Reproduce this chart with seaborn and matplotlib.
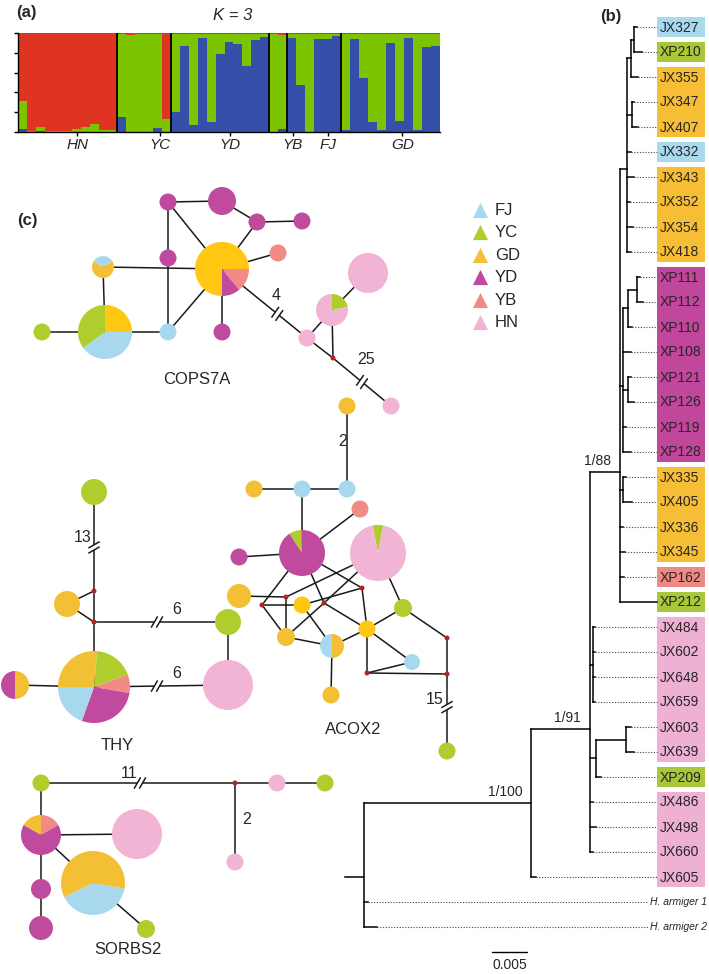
import matplotlib
matplotlib.use("Agg")
import numpy as np
import pandas as pd
import matplotlib.pyplot as plt
from matplotlib.patches import Wedge, Circle, Rectangle
import seaborn as sns

sns.set_theme(style="white")
plt.rcParams['font.family'] = ['Liberation Sans', 'DejaVu Sans']

W, H, DPI = 709, 974, 100

# ---------------- Panel (a): STRUCTURE K = 3 ----------------
struct_groups = ["HN", "YC", "YD", "YB", "FJ", "GD"]
struct_sizes = [11, 6, 11, 2, 6, 11]
struct_label_pos = [6.6, 15.8, 23.6, 30.6, 34.5, 42.8]
q_blue = [0.03, 0.00, 0.01, 0.00, 0.00, 0.00, 0.00, 0.00, 0.00, 0.00, 0.00,   # HN
          0.15, 0.00, 0.00, 0.00, 0.04, 0.00,                                  # YC
          0.20, 0.87, 0.07, 0.95, 0.10, 0.79, 0.91, 0.89, 0.67, 0.93, 0.96,   # YD
          0.00, 0.03,                                                          # YB
          0.95, 0.47, 0.00, 0.94, 0.94, 0.97,                                  # FJ
          0.02, 0.94, 0.55, 0.10, 0.02, 0.90, 0.11, 0.95, 0.02, 0.86, 0.87]   # GD
q_green = [0.28, 0.01, 0.04, 0.01, 0.01, 0.01, 0.03, 0.05, 0.08, 0.02, 0.02,
           0.84, 0.98, 0.99, 0.99, 0.95, 0.13,
           0.79, 0.12, 0.92, 0.04, 0.89, 0.20, 0.08, 0.10, 0.32, 0.06, 0.03,
           0.99, 0.95,
           0.04, 0.52, 0.99, 0.05, 0.05, 0.02,
           0.97, 0.05, 0.44, 0.89, 0.97, 0.09, 0.88, 0.04, 0.97, 0.13, 0.12]
q_red = [0.69, 0.99, 0.95, 0.99, 0.99, 0.99, 0.97, 0.95, 0.92, 0.98, 0.98,
         0.01, 0.02, 0.01, 0.01, 0.01, 0.87,
         0.01, 0.01, 0.01, 0.01, 0.01, 0.01, 0.01, 0.01, 0.01, 0.01, 0.01,
         0.01, 0.02,
         0.01, 0.01, 0.01, 0.01, 0.01, 0.01,
         0.01, 0.01, 0.01, 0.01, 0.01, 0.01, 0.01, 0.01, 0.01, 0.01, 0.01]
STRUCT_COLORS = {"blue": "#3550A8", "green": "#7CC300", "red": "#DF3422"}

# ---------------- Panel (b): tree ----------------
# internal node = ([children], branch_length, support) ; leaf = (name, branch_length)
clade_A = ([
    ([([("JX327", 0.0004), ("XP210", 0.0011)], 0.0004, ""), ("JX355", 0.0009)], 0.0006, ""),
    ([("JX347", 0.0003), ("JX407", 0.0009)], 0.0007, ""),
    ("JX332", 0.0006), ("JX343", 0.0010), ("JX352", 0.0004), ("JX354", 0.0009), ("JX418", 0.0006),
], 0.0010, "")
clade_YD = ([
    ([([("XP111", 0.0004), ("XP112", 0.0009)], 0.0013, ""), ("XP110", 0.0006)], 0.0007, ""),
    ("XP108", 0.0011),
    ([("XP121", 0.0004), ("XP126", 0.0009)], 0.0007, ""),
    ("XP119", 0.0004), ("XP128", 0.0011),
], 0.0004, "")
clade_88 = ([
    clade_A, clade_YD,
    ([("JX335", 0.0004), ("JX405", 0.0013)], 0.0004, ""),
    ("JX336", 0.0004), ("JX345", 0.0007), ("XP162", 0.0006), ("XP212", 0.0053),
], 0.0043, "1/88")
clade_91 = ([
    clade_88,
    ([("JX484", 0.0003), ("JX602", 0.0003), ("JX648", 0.0003), ("JX659", 0.0003)], 0.0004, ""),
    ([([("JX603", 0.0006), ("JX639", 0.0011)], 0.0043, ""), ("XP209", 0.0007)], 0.0009, ""),
    ("JX486", 0.0004), ("JX498", 0.0009), ("JX660", 0.0004),
], 0.0084, "1/91")
clade_100 = ([clade_91, ("JX605", 0.0007)], 0.0239, "1/100")
tree = ([clade_100, ("H. armiger 1", 0.0006), ("H. armiger 2", 0.0019)], 0.0027, "")

leaf_pop = {"JX327": "FJ", "XP210": "YC", "JX355": "GD", "JX347": "GD", "JX407": "GD",
            "JX332": "FJ", "JX343": "GD", "JX352": "GD", "JX354": "GD", "JX418": "GD",
            "XP111": "YD", "XP112": "YD", "XP110": "YD", "XP108": "YD", "XP121": "YD",
            "XP126": "YD", "XP119": "YD", "XP128": "YD", "JX335": "GD", "JX405": "GD",
            "JX336": "GD", "JX345": "GD", "XP162": "YB", "XP212": "YC", "JX484": "HN",
            "JX602": "HN", "JX648": "HN", "JX659": "HN", "JX603": "HN", "JX639": "HN",
            "XP209": "YC", "JX486": "HN", "JX498": "HN", "JX660": "HN", "JX605": "HN"}
scale_bar_value = 0.005

TREE_COLORS = {"FJ": "#A9D9EF", "YC": "#A8C73A", "GD": "#F5BE35", "YD": "#C0479B",
               "YB": "#EF8985", "HN": "#EFB1D3"}

# ---------------- Panel (c): haplotype networks ----------------
POP_COLORS = {"FJ": "#A8D8EE", "YC": "#B0CD2E", "GD": "#F3BF34", "GDb": "#FFC712",
              "YD": "#C04A9E", "YB": "#F08B86", "HN": "#F1B4D5"}
legend_pops = ["FJ", "YC", "GD", "YD", "YB", "HN"]

# (id, x, y, radius, composition, start angle clockwise from 12 o'clock)
cops_nodes = [
    ("N1", 42, 332, 8.5, "YC", 0),
    ("N2", 105, 332, 27, [("GDb", 0.25), ("FJ", 0.40), ("YC", 0.35)], 0),
    ("N3", 103, 267, 11, [("FJ", 0.33), ("GD", 0.67)], -60),
    ("N4", 168, 332, 8.5, "FJ", 0),
    ("N5", 168, 258, 8.5, "YD", 0),
    ("N6", 168, 202, 8.5, "YD", 0),
    ("N7", 222, 201, 14, "YD", 0),
    ("N8", 257, 222, 8.5, "YD", 0),
    ("N9", 302, 221, 8.5, "YD", 0),
    ("N10", 278, 253, 8.5, "YB", 0),
    ("N11", 222, 269, 27, [("YB", 0.14), ("YD", 0.11), ("GDb", 0.75)], 90),
    ("N12", 222, 332, 8.5, "YD", 0),
    ("N13", 307, 338, 8.5, "HN", 0),
    ("N14", 332, 310, 16, [("YC", 0.22), ("HN", 0.78)], 0),
    ("N15", 368, 273, 20, "HN", 0),
    ("N16", 333, 358, 2.5, None, 0),
    ("N17", 391, 406, 8.5, "HN", 0),
]
cops_edges = [("N1", "N2"), ("N2", "N3"), ("N2", "N4"), ("N3", "N11"), ("N6", "N5"), ("N5", "N4"),
              ("N4", "N11"), ("N6", "N7"), ("N6", "N11"), ("N7", "N8"), ("N8", "N9"), ("N8", "N11"),
              ("N10", "N11"), ("N11", "N12"), ("N13", "N14"), ("N14", "N15"), ("N13", "N16"),
              ("N14", "N16")]
cops_breaks = [("N11", "N13", 0.65, 55), ("N16", "N17", 0.5, 55)]
cops_labels = [("4", 276, 295), ("25", 366, 360)]

acox_nodes = [
    ("A1", 347, 406, 8.5, "GD", 0),
    ("A3", 347, 489, 8.5, "FJ", 0),
    ("A4", 302, 489, 8.5, "FJ", 0),
    ("A5", 254, 489, 8.5, "GD", 0),
    ("A6", 360, 509, 8.5, "YB", 0),
    ("A7", 302, 553, 23, [("YC", 0.09), ("YD", 0.91)], -33),
    ("A8", 239, 557, 8.5, "YD", 0),
    ("A9", 378, 553, 28, [("YC", 0.06), ("HN", 0.94)], -11),
    ("A10", 239, 596, 12, "GD", 0),
    ("A11", 262, 605, 2.5, None, 0),
    ("A12", 286, 597, 2.5, None, 0),
    ("A13", 302, 605, 8.5, "GDb", 0),
    ("A14", 324, 603, 2.5, None, 0),
    ("A15", 362, 588, 2.5, None, 0),
    ("A16", 403, 608, 9, "YC", 0),
    ("A17", 286, 637, 9, "GD", 0),
    ("A18", 332, 646, 12, [("GD", 0.5), ("FJ", 0.5)], 0),
    ("A19", 367, 629, 8.5, "GDb", 0),
    ("A20", 412, 662, 8, "FJ", 0),
    ("A21", 447, 638, 2.5, None, 0),
    ("A22", 367, 673, 2.5, None, 0),
    ("A23", 447, 674, 2.5, None, 0),
    ("A24", 331, 695, 8.5, "GD", 0),
    ("A25", 447, 751, 8.5, "YC", 0),
]
acox_edges = [("A1", "A3"), ("A5", "A4"), ("A4", "A3"), ("A4", "A7"), ("A7", "A6"), ("A8", "A7"),
              ("A7", "A11"), ("A7", "A14"), ("A7", "A15"), ("A14", "A19"), ("A15", "A19"),
              ("A19", "A22"), ("A9", "A12"), ("A9", "A14"), ("A9", "A16"), ("A10", "A12"),
              ("A12", "A17"), ("A11", "A13"), ("A11", "A17"), ("A13", "A15"), ("A13", "A18"),
              ("A17", "A14"), ("A17", "A18"), ("A18", "A19"), ("A19", "A16"), ("A19", "A20"),
              ("A16", "A21"), ("A21", "A23"), ("A22", "A23"), ("A22", "A20"), ("A18", "A24")]
acox_breaks = [("A23", "A25", 0.43, 30)]
acox_labels = [("2", 343, 442), ("15", 435, 700)]

thy_nodes = [
    ("T1", 94, 492, 13, "YC", 0),
    ("T2", 94, 591, 2.5, None, 0),
    ("T3", 67, 604, 13, "GD", 0),
    ("T4", 94, 622, 2.5, None, 0),
    ("T5", 228, 622, 13, "YC", 0),
    ("T6", 94, 687, 36, [("GD", 0.264), ("YC", 0.18), ("YB", 0.083), ("YD", 0.278), ("FJ", 0.195)], 270),
    ("T7", 15, 685, 14, [("GD", 0.5), ("YD", 0.5)], 0),
    ("T8", 228, 685, 25, "HN", 0),
]
thy_edges = [("T2", "T3"), ("T2", "T4"), ("T3", "T4"), ("T4", "T6"), ("T5", "T8"), ("T7", "T6")]
thy_breaks = [("T1", "T2", 0.56, 30), ("T4", "T5", 0.47, 60), ("T6", "T8", 0.47, 60)]
thy_labels = [("13", 83, 538), ("6", 177, 610), ("6", 177, 673)]

sorbs_nodes = [
    ("S1", 41, 783, 8.5, "YC", 0),
    ("S2", 235, 783, 2.5, None, 0),
    ("S3", 277, 783, 8.5, "HN", 0),
    ("S4", 325, 783, 8.5, "YC", 0),
    ("S5", 235, 862, 8.5, "HN", 0),
    ("S6", 41, 835, 20, [("GD", 1 / 6), ("YB", 1 / 6), ("YD", 2 / 3)], -60),
    ("S7", 137, 834, 25, "HN", 0),
    ("S8", 93, 883, 32, [("FJ", 0.40), ("GD", 0.60)], 100),
    ("S9", 41, 889, 10, "YD", 0),
    ("S10", 41, 928, 12, "YD", 0),
    ("S11", 146, 929, 9, "YC", 0),
]
sorbs_edges = [("S2", "S3"), ("S3", "S4"), ("S2", "S5"), ("S1", "S6"), ("S6", "S7"), ("S6", "S8"),
               ("S6", "S9"), ("S9", "S10"), ("S8", "S11")]
sorbs_breaks = [("S1", "S2", 0.51, 60)]
sorbs_labels = [("11", 129, 774), ("2", 247, 819)]

gene_labels = [("COPS7A", 197, 380), ("ACOX2", 353, 730), ("THY", 117, 745), ("SORBS2", 128, 950)]

# ============================ drawing ============================
fig = plt.figure(figsize=(W / DPI, H / DPI), dpi=DPI)
axn = fig.add_axes([0, 0, 1, 1])
axn.set_xlim(0, W)
axn.set_ylim(H, 0)
axn.axis("off")

# ---- (a) structure ----
axs = fig.add_axes([18 / W, 1 - 132 / H, 422 / W, 99 / H])
n_ind = len(q_blue)
xs = np.arange(n_ind) + 0.5
b = np.array(q_blue); g = np.array(q_green); r = np.array(q_red)
axs.bar(xs, b, width=1.0, color=STRUCT_COLORS["blue"], linewidth=0)
axs.bar(xs, g, width=1.0, bottom=b, color=STRUCT_COLORS["green"], linewidth=0)
axs.bar(xs, r, width=1.0, bottom=b + g, color=STRUCT_COLORS["red"], linewidth=0)
for bnd in np.cumsum(struct_sizes)[:-1]:
    axs.axvline(bnd, color="black", lw=1.3)
axs.set_xlim(0, n_ind)
axs.set_ylim(0, 1.0)
axs.set_yticks(np.arange(0, 1.01, 0.2))
axs.set_yticklabels([])
axs.set_xticks(struct_label_pos)
axs.set_xticklabels(struct_groups, fontstyle="italic", fontsize=11)
axs.tick_params(left=True, bottom=True, length=3, width=1, color="black", pad=1.5, direction="out")
for s in ["top", "right"]:
    axs.spines[s].set_visible(False)
for s in ["left", "bottom"]:
    axs.spines[s].set_color("black")
    axs.spines[s].set_linewidth(1.0)
axs.grid(False)
axn.text(233, 15, "K = 3", fontsize=12, fontstyle="italic", ha="center", va="center")

# panel letters
axn.text(16, 13, "(a)", fontsize=12, fontweight="bold", ha="left", va="center")
axn.text(600, 17, "(b)", fontsize=12, fontweight="bold", ha="left", va="center")
axn.text(17, 220, "(c)", fontsize=12, fontweight="bold", ha="left", va="center")

# ---- (b) tree ----
XS = 35 / scale_bar_value          # pixels per substitution/site
ROOT_X = 345
LEAF_Y0, LEAF_DY = 27, 25
BOX_X, BOX_W = 657, 48
out = {"leaves": [], "h": [], "v": [], "sup": []}
counter = [0]


def layout(node, x0):
    if isinstance(node[0], str):
        name, L = node
        x = x0 + L * XS
        y = LEAF_Y0 + counter[0] * LEAF_DY
        counter[0] += 1
        out["leaves"].append((name, x, y))
        return x, y
    children, L, sup = node
    x = x0 + L * XS
    ys = []
    for c in children:
        cx, cy = layout(c, x)
        out["h"].append((x, cx, cy))
        ys.append(cy)
    y = float(np.mean(ys))
    out["v"].append((x, min(ys), max(ys)))
    if sup:
        out["sup"].append((x, y, sup))
    return x, y


rx, ry = layout(tree, ROOT_X)
tl = dict(color="black", lw=1.1, solid_capstyle="projecting")
axn.plot([ROOT_X, rx], [ry, ry], **tl)
for x0, x1, y in out["h"]:
    axn.plot([x0, x1], [y, y], **tl)
for x, y0, y1 in out["v"]:
    axn.plot([x, x], [y0, y1], **tl)
for x, y, sup in out["sup"]:
    axn.text(x - 9, y - 4, sup, fontsize=10, ha="right", va="bottom")

leaves = out["leaves"]
# coloured boxes: one rectangle per run of consecutive leaves from the same population
runs = []
for name, x, y in leaves:
    pop = leaf_pop.get(name)
    if pop is None:
        continue
    if runs and runs[-1][0] == pop and abs(runs[-1][2] - (y - LEAF_DY)) < 1e-6:
        runs[-1][2] = y
    else:
        runs.append([pop, y, y])
for pop, y0, y1 in runs:
    top = y0 - LEAF_DY / 2 + 2.3
    bot = y1 + LEAF_DY / 2 - 2.3
    axn.add_patch(Rectangle((BOX_X, top), BOX_W, bot - top, color=TREE_COLORS[pop], lw=0, zorder=1))

for name, x, y in leaves:
    if name in leaf_pop:
        if x < BOX_X - 1:
            axn.plot([x, BOX_X], [y, y], color="#444444", lw=0.8, ls=(0, (1, 1.5)))
        axn.text(BOX_X + 3, y + 0.5, name, fontsize=10, ha="left", va="center", zorder=3)
    else:
        axn.plot([x, 648], [y, y], color="#444444", lw=0.8, ls=(0, (1, 1.5)))
        axn.text(707, y, name, fontsize=7.5, fontstyle="italic", ha="right", va="center")

# scale bar
SB_X, SB_Y = 492, 952
axn.plot([SB_X, SB_X + scale_bar_value * XS], [SB_Y, SB_Y], color="black", lw=1.0)
axn.text(SB_X + scale_bar_value * XS / 2, 965, f"{scale_bar_value:g}", fontsize=10, ha="center", va="center")

# ---- (c) networks ----
LINE = dict(color="#1a1a1a", lw=1.1, solid_capstyle="butt", zorder=2)


def draw_network(nodes, edges, breaks, labels):
    pos = {n[0]: (n[1], n[2]) for n in nodes}
    for a, c in edges:
        (x0, y0), (x1, y1) = pos[a], pos[c]
        axn.plot([x0, x1], [y0, y1], **LINE)
    for a, c, t, ang in breaks:
        p = np.array(pos[a], float); q = np.array(pos[c], float)
        d = (q - p) / np.linalg.norm(q - p)
        m = p + t * (q - p)
        gap = 2.6
        axn.plot([p[0], m[0] - d[0] * gap], [p[1], m[1] - d[1] * gap], **LINE)
        axn.plot([m[0] + d[0] * gap, q[0]], [m[1] + d[1] * gap, q[1]], **LINE)
        s = np.array([np.cos(np.radians(ang)), -np.sin(np.radians(ang))]) * 6.5
        for k in (-1, 1):
            c0 = m + d * gap * k
            axn.plot([c0[0] - s[0], c0[0] + s[0]], [c0[1] - s[1], c0[1] + s[1]], **LINE)
    for nid, x, y, rad, comp, start in nodes:
        if comp is None:
            axn.add_patch(Circle((x, y), rad, color="#B3231F", lw=0, zorder=4))
        elif isinstance(comp, str):
            axn.add_patch(Circle((x, y), rad, color=POP_COLORS[comp], lw=0, zorder=4))
        else:
            a = start
            for pop, f in comp:
                axn.add_patch(Wedge((x, y), rad, a - 90, a - 90 + f * 360,
                                    color=POP_COLORS[pop], lw=0, zorder=4))
                a += f * 360
    for txt, x, y in labels:
        axn.text(x, y, txt, fontsize=11.5, ha="center", va="center", zorder=5)


draw_network(cops_nodes, cops_edges, cops_breaks, cops_labels)
draw_network(acox_nodes, acox_edges, acox_breaks, acox_labels)
draw_network(thy_nodes, thy_edges, thy_breaks, thy_labels)
draw_network(sorbs_nodes, sorbs_edges, sorbs_breaks, sorbs_labels)
for txt, x, y in gene_labels:
    axn.text(x, y, txt, fontsize=12, ha="center", va="center")

# legend
for i, pop in enumerate(legend_pops):
    yy = 210 + i * 22.4
    axn.scatter([480], [yy], marker="^", s=120, color=POP_COLORS[pop], linewidths=0, zorder=4)
    axn.text(495, yy + 0.5, pop, fontsize=12, ha="left", va="center")

fig.savefig("out.png", dpi=DPI)
